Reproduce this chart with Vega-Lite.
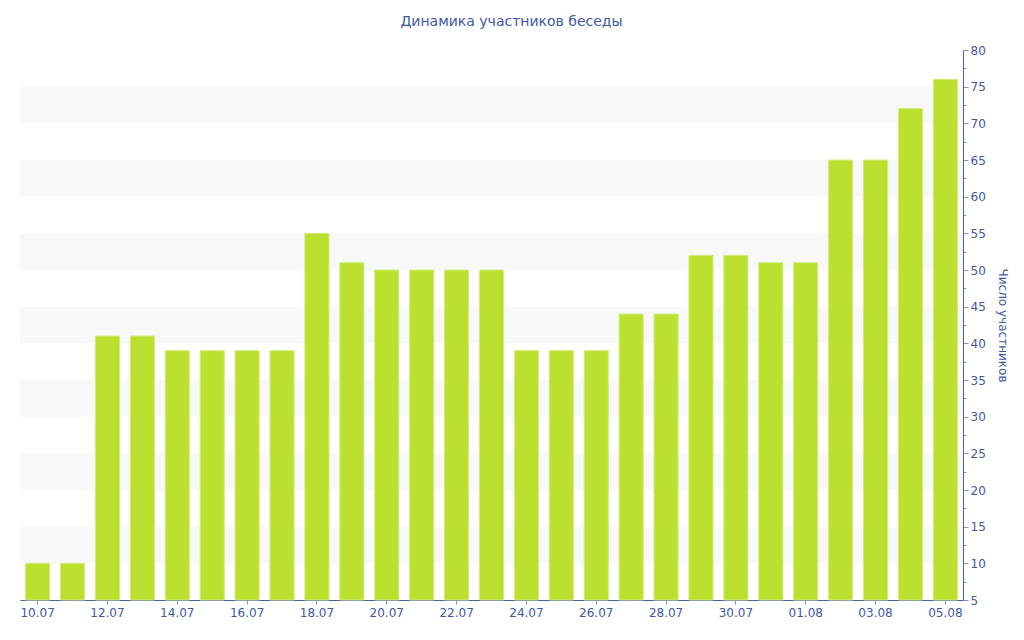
{
  "$schema": "https://vega.github.io/schema/vega-lite/v6.json",
  "width": 943,
  "height": 550,
  "autosize": "none",
  "padding": {"left": 20, "top": 50, "right": 61, "bottom": 40},
  "background": "white",
  "title": {
    "text": "Динамика участников беседы",
    "font": "DejaVu Sans",
    "fontSize": 14,
    "fontWeight": "normal",
    "color": "#4058a6",
    "anchor": "middle",
    "offset": 15,
    "dx": 20
  },
  "config": {
    "view": {"stroke": null},
    "axis": {
      "labelFont": "DejaVu Sans",
      "labelFontSize": 12,
      "labelColor": "#3f57a5",
      "titleFont": "DejaVu Sans",
      "titleFontSize": 12,
      "titleFontWeight": "normal",
      "titleColor": "#3f57a5",
      "domainColor": "#4a5fa8",
      "tickColor": "#8a93b8",
      "grid": false,
      "labelOverlap": false
    }
  },
  "layer": [
    {
      "data": {
        "values": [
          {"lo": 10, "hi": 15},
          {"lo": 20, "hi": 25},
          {"lo": 30, "hi": 35},
          {"lo": 40, "hi": 45},
          {"lo": 50, "hi": 55},
          {"lo": 60, "hi": 65},
          {"lo": 70, "hi": 75}
        ]
      },
      "mark": {"type": "rect", "color": "#f8f8f8"},
      "encoding": {
        "y": {
          "field": "lo",
          "type": "quantitative",
          "scale": {"domain": [5, 80], "zero": false, "nice": false},
          "axis": {
            "orient": "right",
            "title": "Число участников",
            "titlePadding": 10,
            "values": [5, 7.5, 10, 12.5, 15, 17.5, 20, 22.5, 25, 27.5, 30, 32.5, 35, 37.5, 40, 42.5, 45, 47.5, 50, 52.5, 55, 57.5, 60, 62.5, 65, 67.5, 70, 72.5, 75, 77.5, 80],
            "labelExpr": "datum.value % 5 === 0 ? datum.value : ''",
            "labelPadding": 2,
            "labelBound": false,
            "labelOverlap": false,
            "labelFlush": false,
            "tickSize": {"condition": {"test": "datum.value % 5 !== 0", "value": 3}, "value": 5}
          }
        },
        "y2": {"field": "hi"}
      }
    },
    {
      "data": {
        "values": [
          {"date": "10.07", "count": 10},
          {"date": "11.07", "count": 10},
          {"date": "12.07", "count": 41},
          {"date": "13.07", "count": 41},
          {"date": "14.07", "count": 39},
          {"date": "15.07", "count": 39},
          {"date": "16.07", "count": 39},
          {"date": "17.07", "count": 39},
          {"date": "18.07", "count": 55},
          {"date": "19.07", "count": 51},
          {"date": "20.07", "count": 50},
          {"date": "21.07", "count": 50},
          {"date": "22.07", "count": 50},
          {"date": "23.07", "count": 50},
          {"date": "24.07", "count": 39},
          {"date": "25.07", "count": 39},
          {"date": "26.07", "count": 39},
          {"date": "27.07", "count": 44},
          {"date": "28.07", "count": 44},
          {"date": "29.07", "count": 52},
          {"date": "30.07", "count": 52},
          {"date": "31.07", "count": 51},
          {"date": "01.08", "count": 51},
          {"date": "02.08", "count": 65},
          {"date": "03.08", "count": 65},
          {"date": "04.08", "count": 72},
          {"date": "05.08", "count": 76}
        ]
      },
      "mark": {"type": "bar", "color": "#bbe02f", "stroke": "#d3ec7c", "strokeWidth": 1},
      "encoding": {
        "x": {
          "field": "date",
          "type": "ordinal",
          "sort": null,
          "scale": {"paddingInner": 0.31, "paddingOuter": 0.16},
          "axis": {
            "title": null,
            "labelAngle": 0,
            "labelPadding": 3,
            "tickSize": 4,
            "values": ["10.07", "12.07", "14.07", "16.07", "18.07", "20.07", "22.07", "24.07", "26.07", "28.07", "30.07", "01.08", "03.08", "05.08"]
          }
        },
        "y": {
          "field": "count",
          "type": "quantitative",
          "scale": {"domain": [5, 80], "zero": false, "nice": false},
          "axis": {
            "orient": "right",
            "title": "Число участников",
            "titlePadding": 10,
            "values": [5, 7.5, 10, 12.5, 15, 17.5, 20, 22.5, 25, 27.5, 30, 32.5, 35, 37.5, 40, 42.5, 45, 47.5, 50, 52.5, 55, 57.5, 60, 62.5, 65, 67.5, 70, 72.5, 75, 77.5, 80],
            "labelExpr": "datum.value % 5 === 0 ? datum.value : ''",
            "labelPadding": 2,
            "labelBound": false,
            "labelOverlap": false,
            "labelFlush": false,
            "tickSize": {"condition": {"test": "datum.value % 5 !== 0", "value": 3}, "value": 5}
          }
        },
        "y2": {"datum": 5}
      }
    }
  ]
}
